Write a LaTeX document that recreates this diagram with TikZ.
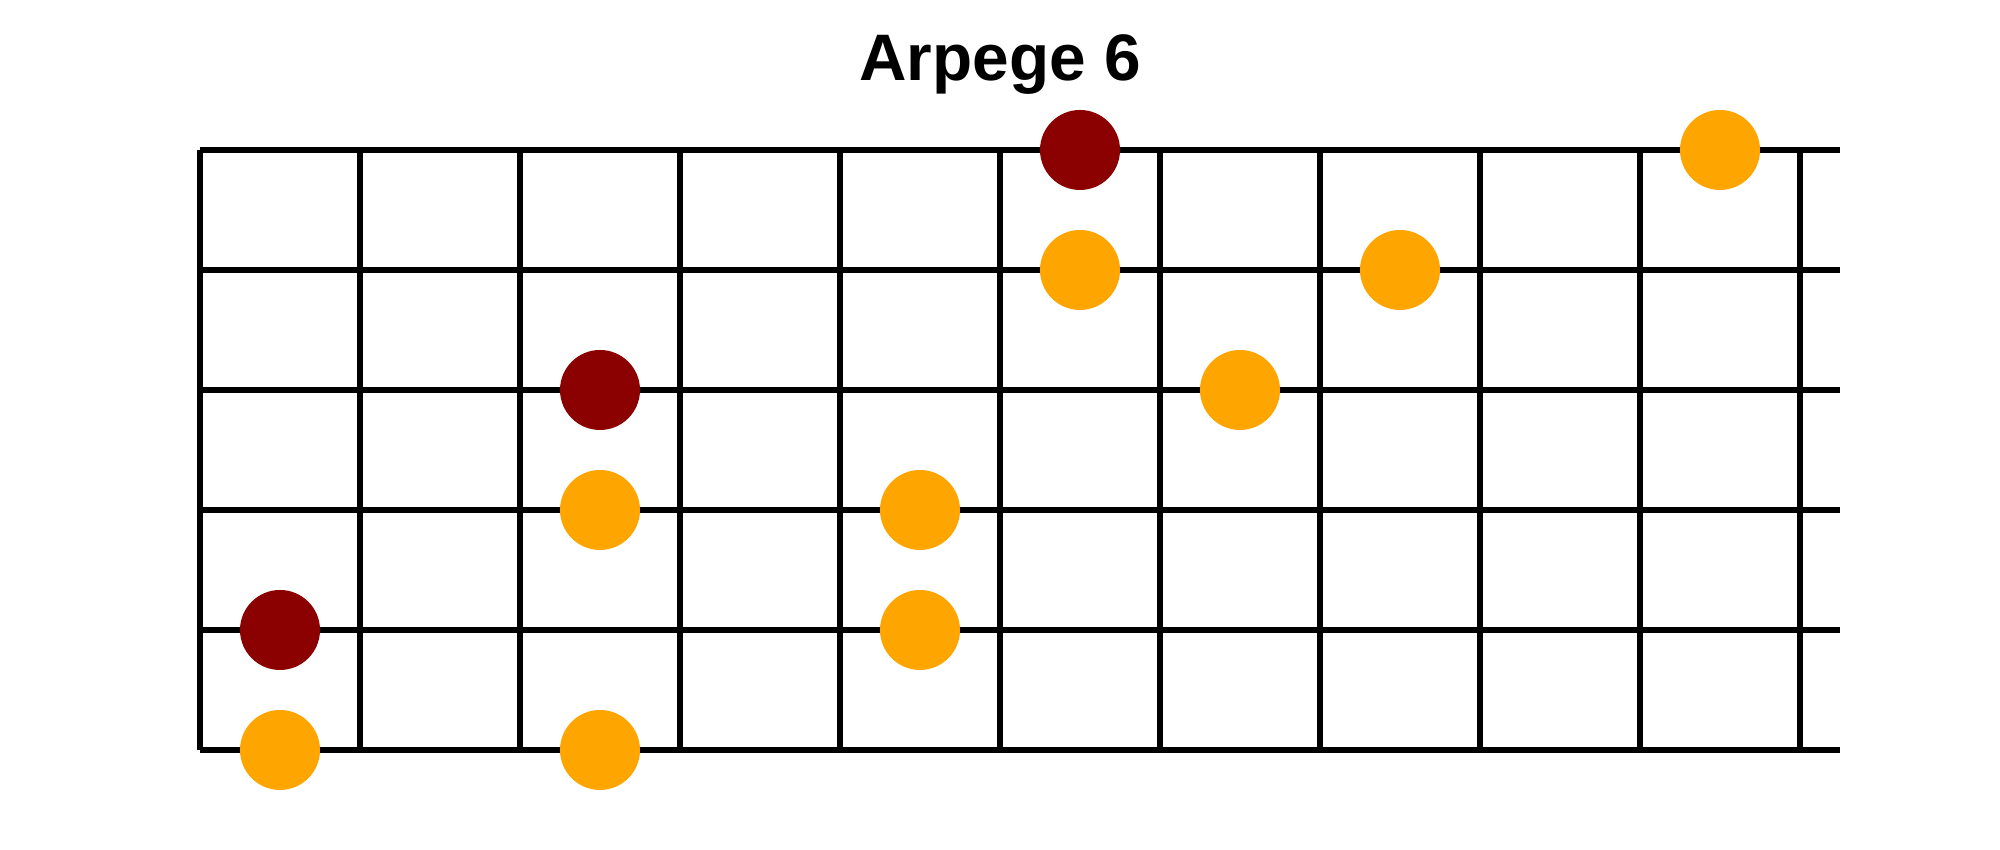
\documentclass[tikz,border=0pt]{standalone}
\usepackage{fontspec}
\setmainfont{Liberation Sans}
\usepackage{tikz}

\begin{document}
\begin{tikzpicture}
	
	\definecolor{rootred}{RGB}{139,0,0}
	\definecolor{noteorange}{RGB}{255,165,0}
	
	\useasboundingbox (0,0) rectangle (20,8.5);
	\tikzstyle{fret} = [draw, line width=0.06cm]
	
	\node[font=\bfseries\fontsize{18.7}{22}\selectfont, anchor=base] (title) at (10,7.69) {Arpege 6};
	
	\foreach \y in {1.0,2.2,3.4,4.6,5.8,7.0}
		\draw[fret] (2,\y) -- (18.4,\y);
	\foreach \x in {0,...,10}
		\draw[fret] (2+1.6*\x,1) -- (2+1.6*\x,7);
	
	\tikzset{vertex/.style = {shape=circle,inner sep=0pt,minimum size=0.8cm}}
	\tikzset{rootdot/.style = {vertex,fill=rootred}}
	\tikzset{notedot/.style = {vertex,fill=noteorange}}
	
	\node[rootdot] (r1) at (10.8,7.0) {};
	\node[notedot] (n1) at (17.2,7.0) {};
	\node[notedot] (n2a) at (10.8,5.8) {};
	\node[notedot] (n2b) at (14.0,5.8) {};
	\node[rootdot] (r3) at (6.0,4.6) {};
	\node[notedot] (n3) at (12.4,4.6) {};
	\node[notedot] (n4a) at (6.0,3.4) {};
	\node[notedot] (n4b) at (9.2,3.4) {};
	\node[rootdot] (r5) at (2.8,2.2) {};
	\node[notedot] (n5) at (9.2,2.2) {};
	\node[notedot] (n6a) at (2.8,1.0) {};
	\node[notedot] (n6b) at (6.0,1.0) {};
	\end{tikzpicture}
\end{document}
